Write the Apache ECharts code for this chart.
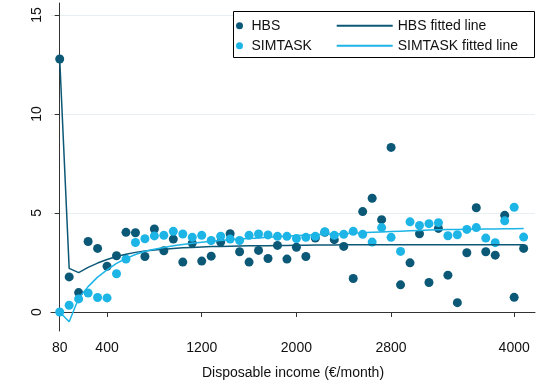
<!DOCTYPE html>
<html>
<head>
<meta charset="utf-8">
<script src="https://cdn.jsdelivr.net/npm/echarts@6/dist/echarts.min.js"></script>
<style>
  html, body { margin: 0; padding: 0; background: #fff; }
  #chart { width: 539px; height: 387px; }
</style>
</head>
<body>
<div id="chart"></div>
<script>
// income bins are drawn at their index; only some bins carry a label
const tickIdx = [0, 5, 15, 25, 35, 48];
const tickLabels = ['80', '400', '1200', '2000', '2800', '4000'];
const yTicks = [0, 5, 10, 15];

const hbs = [12.77, 1.77, 0.98, 3.56, 3.21, 2.31, 2.84, 4.02, 4.00, 2.80,
  4.19, 3.09, 3.68, 2.52, 3.48, 2.57, 2.82, 3.53, 3.95, 3.04,
  2.52, 3.11, 2.70, 3.36, 2.67, 3.27, 2.80, 3.73, 4.02, 3.65,
  3.31, 1.69, 5.07, 5.74, 4.66, 8.31, 1.37, 2.48, 3.95, 1.49,
  4.22, 1.86, 0.47, 2.99, 5.26, 3.04, 2.87, 4.88, 0.74, 3.21];

const simtask = [0.00, 0.34, 0.66, 0.96, 0.73, 0.71, 1.93, 2.67, 3.51, 3.70,
  3.84, 3.87, 4.07, 3.94, 3.77, 3.87, 3.61, 3.83, 3.68, 3.61,
  3.87, 3.94, 3.89, 3.82, 3.82, 3.71, 3.77, 3.82, 4.05, 3.87,
  3.92, 4.07, 3.92, 3.53, 4.26, 3.77, 3.06, 4.55, 4.37, 4.46,
  4.51, 3.85, 3.90, 4.17, 4.26, 3.73, 3.50, 4.60, 5.29, 3.78];

const hbsFit = [12.77, 2.2, 1.99, 2.25, 2.47, 2.65, 2.8, 2.92, 3.01, 3.08,
  3.13, 3.17, 3.21, 3.24, 3.26, 3.28, 3.3, 3.31, 3.32, 3.33,
  3.34, 3.35, 3.35, 3.36, 3.36, 3.37, 3.37, 3.38, 3.38, 3.38,
  3.39, 3.39, 3.39, 3.39, 3.4, 3.4, 3.4, 3.4, 3.4, 3.4,
  3.4, 3.4, 3.4, 3.4, 3.4, 3.4, 3.4, 3.4, 3.4, 3.4];

const simFit = [0.0, -0.49, 0.69, 1.28, 1.76, 2.13, 2.45, 2.7, 2.9, 3.07,
  3.17, 3.26, 3.34, 3.41, 3.47, 3.52, 3.57, 3.61, 3.65, 3.68,
  3.71, 3.74, 3.77, 3.8, 3.83, 3.86, 3.88, 3.9, 3.92, 3.94,
  3.96, 3.98, 4.0, 4.02, 4.04, 4.06, 4.08, 4.1, 4.12, 4.14,
  4.15, 4.16, 4.17, 4.18, 4.18, 4.19, 4.19, 4.2, 4.2, 4.21];

const dark = '#0c5877';
const light = '#1db4e6';
const font = "'Liberation Sans', Arial, sans-serif";

const pairs = arr => arr.map((v, i) => [i, v]);

const chart = echarts.init(document.getElementById('chart'));

chart.setOption({
  animation: false,
  textStyle: { fontFamily: font },
  grid: { left: 51, right: 4, top: 3, bottom: 56 },
  xAxis: {
    type: 'value',
    min: -0.92,
    max: 50.2,
    name: 'Disposable income (€/month)',
    nameLocation: 'middle',
    nameGap: 35,
    nameTextStyle: { fontSize: 14, color: '#111', fontFamily: font },
    axisLine: { lineStyle: { color: '#333', width: 1 } },
    axisTick: { customValues: tickIdx, length: 5, lineStyle: { color: '#333' } },
    axisLabel: {
      customValues: tickIdx,
      fontSize: 14, color: '#111', margin: 10,
      formatter: v => tickLabels[tickIdx.indexOf(v)]
    },
    splitLine: { show: false }
  },
  yAxis: {
    type: 'value',
    min: -0.96,
    max: 15.6,
    axisLine: { show: true, lineStyle: { color: '#333', width: 1 } },
    axisTick: { show: true, customValues: yTicks, length: 5, lineStyle: { color: '#333' } },
    axisLabel: { customValues: yTicks, rotate: 90, fontSize: 14, color: '#111', margin: 7 },
    splitLine: { show: true, lineStyle: { color: '#e6eff1', width: 1 } }
  },
  graphic: [{
    type: 'rect',
    z: 1,
    shape: { x: 233.5, y: 11.5, width: 301, height: 46 },
    style: { fill: '#fff', stroke: '#000', lineWidth: 1 }
  }],
  legend: [{
    data: ['HBS', 'SIMTASK'],
    orient: 'vertical',
    left: 236,
    top: 18.7,
    padding: 0,
    itemGap: 6,
    itemWidth: 14,
    itemHeight: 7,
    z: 5,
    textStyle: { fontSize: 14, color: '#111', fontFamily: font }
  }, {
    data: ['HBS fitted line', 'SIMTASK fitted line'],
    orient: 'vertical',
    left: 336.7,
    top: 18.7,
    padding: 0,
    itemGap: 6,
    icon: 'rect',
    itemWidth: 56,
    itemHeight: 2,
    z: 5,
    textStyle: { fontSize: 14, color: '#111', fontFamily: font }
  }],
  series: [{
    name: 'HBS',
    type: 'scatter',
    data: pairs(hbs),
    symbolSize: 9,
    itemStyle: { color: dark, opacity: 1 }
  }, {
    name: 'SIMTASK',
    type: 'scatter',
    data: pairs(simtask),
    symbolSize: 9,
    itemStyle: { color: light, opacity: 1 }
  }, {
    name: 'HBS fitted line',
    type: 'line',
    data: pairs(hbsFit),
    symbol: 'none',
    lineStyle: { color: dark, width: 1.5 },
    itemStyle: { color: dark }
  }, {
    name: 'SIMTASK fitted line',
    type: 'line',
    data: pairs(simFit),
    symbol: 'none',
    lineStyle: { color: light, width: 1.5 },
    itemStyle: { color: light }
  }]
});
</script>
</body>
</html>
